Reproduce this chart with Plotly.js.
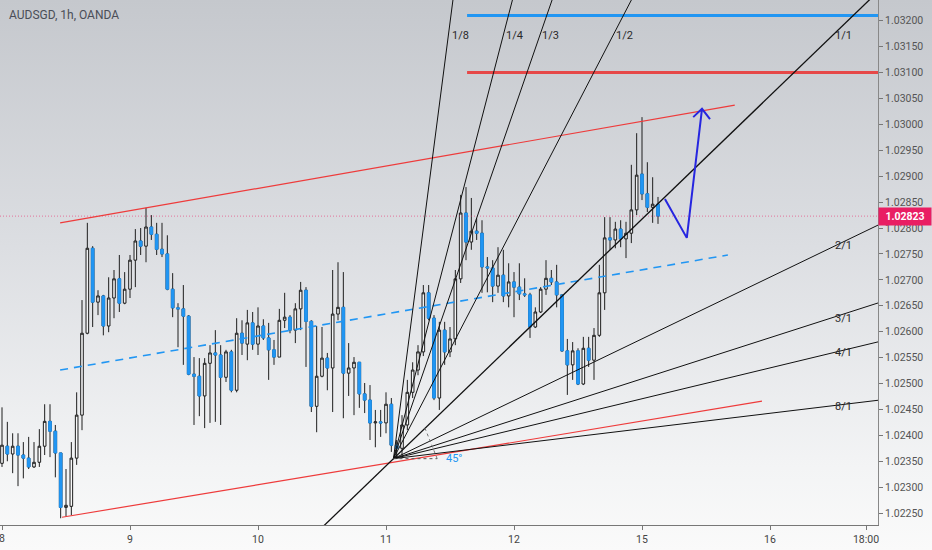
<!DOCTYPE html>
<html><head><meta charset="utf-8">
<script src="https://cdn.plot.ly/plotly-3.0.1.min.js"></script>
<style>
html,body{margin:0;padding:0;}
body{width:932px;height:550px;overflow:hidden;background:linear-gradient(180deg,#c5c8cd 0%,#dcdee2 45%,#f3f4f5 85%,#fafafa 100%);}
#chart{width:932px;height:550px;}
</style></head><body><div id="chart"></div>
<script>
// ---- data (AUDSGD 1h, OANDA) ----
const open = [
1.02346,1.02379,1.02364,1.02379,1.02362,1.02356,1.02339,1.02348,1.02379,1.02427,
1.02408,1.02366,1.02261,1.02263,1.02356,1.02439,1.02597,1.02761,1.02657,1.02669,
1.02611,1.02665,1.02702,1.02655,1.02682,1.02738,1.02775,1.02765,1.02802,1.02788,
1.02759,1.02750,1.02682,1.02646,1.02644,1.02630,1.02518,1.02514,1.02476,1.02539,
1.02559,1.02555,1.02512,1.02561,1.02487,1.02597,1.02576,1.02617,1.02576,1.02611,
1.02588,1.02565,1.02551,1.02622,1.02628,1.02603,1.02644,1.02680,1.02620,1.02456,
1.02514,1.02549,1.02530,1.02634,1.02647,1.02520,1.02530,1.02541,1.02480,1.02468,
1.02424,1.02426,1.02424,1.02460,1.02381,1.02375,1.02420,1.02483,1.02526,1.02561,
1.02675,1.02626,1.02472,1.02603,1.02561,1.02586,1.02702,1.02829,1.02773,1.02794,
1.02790,1.02725,1.02723,1.02688,1.02709,1.02669,1.02696,1.02686,1.02673,1.02671,
1.02609,1.02638,1.02682,1.02703,1.02696,1.02671,1.02563,1.02536,1.02563,1.02499,
1.02568,1.02545,1.02593,1.02675,1.02781,1.02777,1.02798,1.02779,1.02790,1.02835,
1.02904,1.02866,1.02840,1.02846];
const high = [
1.02454,1.02426,1.02404,1.02404,1.02387,1.02397,1.02387,1.02412,1.02460,1.02460,
1.02420,1.02366,1.02335,1.02387,1.02483,1.02661,1.02810,1.02765,1.02680,1.02671,
1.02705,1.02719,1.02748,1.02715,1.02748,1.02798,1.02800,1.02839,1.02825,1.02810,
1.02810,1.02786,1.02713,1.02655,1.02690,1.02632,1.02551,1.02549,1.02549,1.02574,
1.02603,1.02574,1.02565,1.02565,1.02626,1.02622,1.02642,1.02638,1.02647,1.02624,
1.02617,1.02584,1.02644,1.02675,1.02632,1.02655,1.02696,1.02686,1.02622,1.02611,
1.02609,1.02559,1.02719,1.02734,1.02715,1.02578,1.02551,1.02541,1.02501,1.02497,
1.02449,1.02449,1.02483,1.02472,1.02391,1.02439,1.02507,1.02541,1.02574,1.02690,
1.02690,1.02632,1.02619,1.02619,1.02609,1.02719,1.02864,1.02879,1.02858,1.02819,
1.02815,1.02744,1.02738,1.02763,1.02758,1.02732,1.02715,1.02732,1.02703,1.02675,
1.02647,1.02686,1.02738,1.02719,1.02729,1.02671,1.02586,1.02580,1.02568,1.02590,
1.02590,1.02607,1.02729,1.02821,1.02821,1.02812,1.02815,1.02812,1.02922,1.02983,
1.03014,1.02927,1.02898,1.02860];
const low = [
1.02339,1.02350,1.02327,1.02302,1.02317,1.02335,1.02337,1.02339,1.02362,1.02358,
1.02319,1.02240,1.02244,1.02246,1.02343,1.02410,1.02595,1.02609,1.02632,1.02593,
1.02599,1.02626,1.02638,1.02653,1.02665,1.02686,1.02748,1.02734,1.02777,1.02748,
1.02744,1.02680,1.02628,1.02570,1.02536,1.02516,1.02420,1.02437,1.02414,1.02424,
1.02426,1.02420,1.02503,1.02483,1.02483,1.02555,1.02545,1.02565,1.02555,1.02584,
1.02507,1.02536,1.02551,1.02607,1.02597,1.02578,1.02603,1.02532,1.02445,1.02406,
1.02512,1.02487,1.02445,1.02622,1.02433,1.02476,1.02439,1.02453,1.02443,1.02391,
1.02377,1.02397,1.02404,1.02368,1.02356,1.02358,1.02410,1.02472,1.02516,1.02553,
1.02622,1.02468,1.02449,1.02536,1.02551,1.02574,1.02694,1.02738,1.02758,1.02777,
1.02675,1.02676,1.02657,1.02675,1.02657,1.02647,1.02628,1.02661,1.02667,1.02588,
1.02607,1.02636,1.02671,1.02690,1.02647,1.02561,1.02478,1.02507,1.02497,1.02497,
1.02532,1.02507,1.02590,1.02642,1.02758,1.02761,1.02763,1.02742,1.02771,1.02825,
1.02854,1.02831,1.02810,1.02808];
const close = [
1.02381,1.02364,1.02379,1.02362,1.02356,1.02339,1.02348,1.02379,1.02427,1.02408,
1.02366,1.02261,1.02265,1.02356,1.02439,1.02597,1.02761,1.02657,1.02669,1.02611,
1.02665,1.02702,1.02655,1.02682,1.02738,1.02775,1.02765,1.02802,1.02788,1.02759,
1.02750,1.02682,1.02646,1.02644,1.02630,1.02518,1.02514,1.02476,1.02539,1.02559,
1.02555,1.02512,1.02561,1.02487,1.02597,1.02578,1.02617,1.02576,1.02611,1.02588,
1.02565,1.02551,1.02622,1.02628,1.02603,1.02644,1.02680,1.02620,1.02456,1.02514,
1.02549,1.02530,1.02634,1.02647,1.02520,1.02530,1.02541,1.02480,1.02468,1.02424,
1.02426,1.02424,1.02460,1.02381,1.02375,1.02420,1.02483,1.02526,1.02561,1.02675,
1.02626,1.02472,1.02603,1.02561,1.02586,1.02702,1.02829,1.02773,1.02794,1.02790,
1.02725,1.02723,1.02688,1.02709,1.02669,1.02696,1.02686,1.02673,1.02671,1.02609,
1.02638,1.02682,1.02703,1.02696,1.02671,1.02563,1.02536,1.02563,1.02499,1.02568,
1.02545,1.02593,1.02675,1.02781,1.02777,1.02798,1.02779,1.02790,1.02835,1.02902,
1.02866,1.02840,1.02846,1.02823];

// x axis: bar index (1 bar = 1 hour, weekend removed)
const tickBars  = [0, 24, 48, 72, 96, 120, 144, 162];
const tickText  = ['8','9','10','11','12','15','16','18:00'];
const xRange = [-0.375, 164.25];
const yRange = [1.02227, 1.03240];

// drawings
const lastPrice = 1.02823;
const upperChannelBars = [10.9, 137.4],  upperChannelPrices = [1.02810, 1.03037];
const lowerChannelBars = [11.25, 142.5], lowerChannelPrices = [1.02242, 1.02466];
const midLineBars = [10.9, 136.1],       midLinePrices = [1.02526, 1.02748];
const levelStartBar = 87.2;
const blueLevel = 1.03210, redLevel = 1.03100;
const projBars = [124.3, 128.4, 131.25], projPrices = [1.02856, 1.02781, 1.03030];
const arrowBars = [129.6, 131.25, 132.75], arrowPrices = [1.03014, 1.03030, 1.03010];

// Gann fan
const fanOriginBar = 73.4, fanOriginPrice = 1.02355;
const fanUnit = 0.0000992; // price per bar on the 1/1 line
const fanNames = ['1/8','1/4','1/3','1/2','1/1','2/1','3/1','4/1','8/1'];
const fanBarsPart = [1,1,1,1,1,2,3,4,8];
const fanPricePart = [8,4,3,2,1,1,1,1,1];
const fanLabelBar = [85.9, 96.0, 102.9, 116.8, 157.7, 157.7, 157.7, 157.7, 157.7];
const fanLabelPrice = [1.03171, 1.03171, 1.03171, 1.03171, 1.03171, 1.02767, 1.02626, 1.02559, 1.02455];
const angleText = '45°';

// ---- build ----
const bars = open.map((_, i) => i);
const downIdx = bars.filter(i => close[i] < open[i]);
const BLUE = '#2196f3', INK = '#1e1e1e', RED = '#ee3b3b';
const FONT = 'Roboto, "DejaVu Sans", sans-serif';

const traces = [];
function line(xs, ys, color, width, dash) {
  traces.push({type: 'scatter', mode: 'lines', x: xs, y: ys,
    line: {color: color, width: width, dash: dash || 'solid'},
    hoverinfo: 'skip', showlegend: false});
}
// last price dotted line (behind candles)
line([xRange[0], xRange[1]], [lastPrice, lastPrice], 'rgba(233,30,99,0.55)', 1, '1px,2px');

traces.push({
  type: 'candlestick', x: bars, open: open, high: high, low: low, close: close,
  increasing: {line: {color: INK, width: 1}, fillcolor: 'rgba(255,255,255,0.55)'},
  decreasing: {line: {color: INK, width: 1}, fillcolor: BLUE},
  whiskerwidth: 0, hoverinfo: 'skip', showlegend: false
});
traces.push({
  type: 'candlestick', x: downIdx,
  open: downIdx.map(i => open[i]), high: downIdx.map(i => open[i]),
  low: downIdx.map(i => close[i]), close: downIdx.map(i => close[i]),
  increasing: {line: {color: BLUE, width: 1}, fillcolor: BLUE},
  decreasing: {line: {color: BLUE, width: 1}, fillcolor: BLUE},
  whiskerwidth: 0, hoverinfo: 'skip', showlegend: false
});

// channel
line(upperChannelBars, upperChannelPrices, RED, 1.2);
line(lowerChannelBars, lowerChannelPrices, RED, 1.2);
line(midLineBars, midLinePrices, BLUE, 1.6, '8px,6px');
// target levels
line([levelStartBar, xRange[1]], [blueLevel, blueLevel], BLUE, 3);
line([levelStartBar, xRange[1]], [redLevel, redLevel], '#e64848', 3);
// gann fan
const farBar = 200;
fanNames.forEach((n, k) => {
  const slope = fanUnit * fanPricePart[k] / fanBarsPart[k];
  const startBar = n === '1/1' ? 40 : fanOriginBar;
  line([startBar, farBar],
       [fanOriginPrice + slope * (startBar - fanOriginBar), fanOriginPrice + slope * (farBar - fanOriginBar)],
       '#111', n === '1/1' ? 1.3 : 1);
});
// 45 degree marker
line([fanOriginBar, 81.6], [fanOriginPrice, fanOriginPrice], '#555', 1, 'dot');
line([81.6, 79.3], [fanOriginPrice, 1.02414], '#777', 1, 'dot');
// projection
line(projBars, projPrices, '#2626e0', 2);
line(arrowBars, arrowPrices, '#2626e0', 2);

const annotations = [];
annotations.push({xref: 'paper', yref: 'paper', x: 0, y: 1, xanchor: 'left', yanchor: 'top',
  xshift: 7, yshift: -6, showarrow: false, text: 'AUDSGD, 1h, OANDA',
  font: {family: FONT, size: 12, color: '#4a4e57'}});
fanNames.forEach((n, k) => {
  annotations.push({x: fanLabelBar[k], y: fanLabelPrice[k], xref: 'x', yref: 'y', text: n,
    showarrow: false, font: {family: FONT, size: 11, color: '#2a2a2a'}});
});
annotations.push({x: 84.75, y: fanOriginPrice, xref: 'x', yref: 'y', text: angleText, showarrow: false,
  font: {family: FONT, size: 11, color: BLUE}});
annotations.push({xref: 'paper', x: 1, xanchor: 'left', yref: 'y', y: lastPrice, text: '<b>' + lastPrice.toFixed(5) + '</b>',
  showarrow: false, bgcolor: '#e91e63', width: 50, height: 15, borderpad: 1, align: 'center',
  font: {family: FONT, size: 10.5, color: '#ffffff'}});
// first day label sits on the left edge (partly cut in the original)
annotations.push({xref: 'x', x: tickBars[0], yref: 'paper', y: 0, yanchor: 'top', yshift: -5,
  xanchor: 'center', text: tickText[0], showarrow: false,
  font: {family: FONT, size: 10.5, color: '#444'}});

const layout = {
  width: 932, height: 550,
  margin: {l: 0, r: 54, t: 0, b: 25, pad: 0},
  paper_bgcolor: 'rgba(0,0,0,0)', plot_bgcolor: 'rgba(0,0,0,0)',
  showlegend: false,
  xaxis: {range: xRange, tickvals: tickBars, ticktext: tickText, ticks: 'outside', ticklen: 4,
    tickcolor: '#777', showline: true, linecolor: '#777', linewidth: 1, showgrid: false, zeroline: false,
    rangeslider: {visible: false}, fixedrange: true,
    tickfont: {family: FONT, size: 10.5, color: '#444'}},
  yaxis: {range: yRange, side: 'right', tick0: 1.0225, dtick: 0.0005, tickformat: '.5f',
    ticks: 'outside', ticklen: 4, tickcolor: '#777', showline: true, linecolor: '#888', linewidth: 1,
    showgrid: false, zeroline: false, fixedrange: true,
    tickfont: {family: FONT, size: 10.5, color: '#555'}},
  annotations: annotations
};
Plotly.newPlot('chart', traces, layout, {displayModeBar: false, staticPlot: true});
</script></body></html>
